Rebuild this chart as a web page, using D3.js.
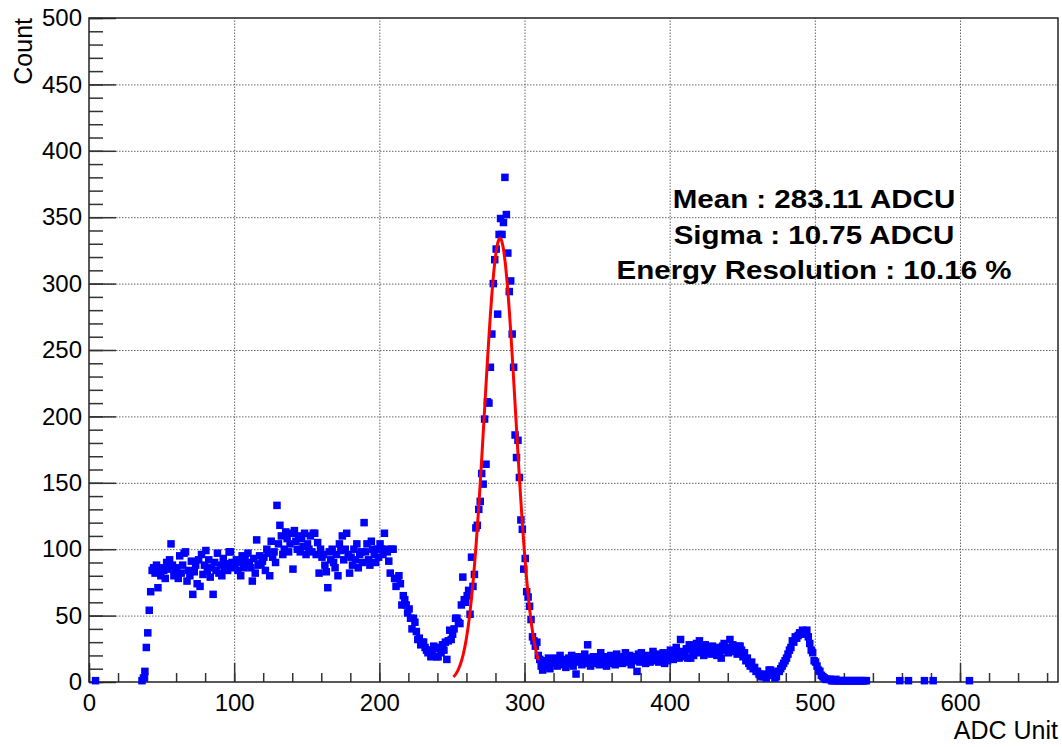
<!DOCTYPE html>
<meta charset="utf-8">
<script src="https://d3js.org/d3.v7.min.js"></script>
<style>
body { margin: 0; background: white; }
svg text { font-family: "Liberation Sans", Arial, Helvetica, sans-serif; fill: #000; }
.grid line { stroke: #666; stroke-dasharray: 1.5,1.5; stroke-width: 1; }
.grid path { display: none; }
.axis path { display: none; }
.axis line { stroke: #333; stroke-width: 1.5; }
.stats { font-weight: bold; font-size: 25px; }
</style>
<body>
<svg id="svg" width="1062" height="747"></svg>
<script>
// histogram counts, one bin per ADC unit, bins start at 0 (empty bins are not drawn)
var binWidth = 1;
var counts0 = [0,0,0,0,1,0,0,0,0,0, 0,0,0,0,0,0,0,0,0,0, 0,0,0,0,0,0,0,0,0,0, 0,0,0,0,0,0,1,3,8,26,
               37,54,68,84,86,82,88,71,85,80, 86,84,78,90,85,92,104,88,80,83, 86,78,95,82,88,97,98,76,84,80,
               91,66,83,88,74,92,72,96,81,88, 99,84,92,79,86,66,90,84,97,82, 88,80,93,85,89,84,98,98,90,86];
var counts100 = [88,92,84,90,80,95,86,93,88,97, 90,86,76,93,82,107,88,95,89,91, 94,84,100,97,80,106,94,98,90,133,
                 104,118,110,96,100,113,108,98,104,112, 85,114,106,100,110,98,108,102,112,96,
                 104,100,110,98,112,112,96,105,82,100, 94,96,88,83,71,98,92,100,90,86,
                 96,80,104,99,110,92,100,112,96,82, 94,88,100,92,104,86,96,98,90,120, 98,104,92,88,106,100,96,90,100,94];
var counts200 = [104,100,96,112,100,98,91,82,100,100, 78,72,78,80,74,58,65,62,58,52, 55,48,40,48,45,38,32,33,28,30,
                 30,26,24,22,24,19,20,27,25,19, 19,26,22,28,24,30,17,31,39,32, 36,40,48,48,45,44,58,79,62,60,
                 65,69,51,94,72,81,116,118,130,136, 157,149,198,164,211,210,237,262,300,318,
                 326,277,337,349,337,346,380,352,323,294, 302,262,237,186,169,182,154,122,115,85];
var counts300 = [93,68,64,57,47,34,31,27,30,20, 17,12,9,14,16,12,18,10,15,17, 14,18,12,16,20,15,13,17,11,16,
                 18,14,20,12,16,6,19,15,17,13, 16,21,14,28,18,12,15,19,16,14, 17,13,22,16,15,19,12,18,14,20,
                 16,18,13,21,15,17,19,14,16,22, 18,15,20,13,17,19,16,8,21,15, 22,16,18,14,20,17,15,19,23,16,
                 18,21,15,19,17,22,14,20,16,18];
var counts400 = [24,19,17,22,26,20,18,32,23,19, 21,25,18,28,18,24,20,26,29,22, 31,27,24,20,28,22,25,24,21,27,
                 23,26,20,24,22,18,27,29,24,26, 22,32,25,28,23,26,21,27,27,24, 19,22,16,18,14,12,15,10,11,8,
                 8,6,5,4,4,6,3,5,9,9, 6,5,3,4,8,8,10,12,14,16, 18,21,24,26,31,30,34,33,35,37,
                 37,39,36,38,39,34,29,24,22,16];
var counts500 = [15,12,9,8,5,4,3,2,2,2, 2,1,1,1,2,1,1,1,1,1, 1,1,1,1,1,1,1,1,1,1, 1,1,1,1,1,1,0,0,0,0,
                 0,0,0,0,0,0,0,0,0,0, 0,0,0,0,0,0,0,0,1,0, 0,0,0,0,1,0,0,0,0,0, 0,0,0,0,0,1,0,0,0,0,
                 0,1,0,0,0,0,0,0,0,0, 0,0,0,0,0,0,0,0,0,0, 0,0,0,0,0,0,1,0,0,0];

// gaussian fit shown in red
var fitMean = 283.11, fitSigma = 10.75, fitAmp = 334;
var fitRange = [251, 309.5];

var statLines = ["Mean : 283.11 ADCU", "Sigma : 10.75 ADCU", "Energy Resolution : 10.16 %"];

var xMajor = [0, 100, 200, 300, 400, 500, 600];
var xMinor = d3.range(0, 667, 20);
var yMajor = [0, 50, 100, 150, 200, 250, 300, 350, 400, 450, 500];
var yMinor = d3.range(0, 501, 10);

var counts = counts0.concat(counts100, counts200, counts300, counts400, counts500);
var bins = counts.map(function(c, i) { return {x: (i + 0.5) * binWidth, y: c}; })
    .filter(function(d) { return d.y > 0; });

var svg = d3.select("#svg");
var margin = {top: 18, right: 4, bottom: 65, left: 89};
var width = 1062 - margin.left - margin.right;
var height = 747 - margin.top - margin.bottom;

svg.append("rect").attr("width", 1062).attr("height", 747).attr("fill", "white");

var g = svg.append("g")
    .attr("transform", "translate(" + margin.left + "," + margin.top + ")");

var x = d3.scaleLinear().domain([0, 667.5]).range([0, width]);
var y = d3.scaleLinear().domain([0, 500]).range([height, 0]);

// dotted grid
g.append("g")
    .attr("class", "grid")
    .attr("transform", "translate(0," + height + ")")
    .call(d3.axisBottom(x).tickValues(xMajor.slice(1)).tickSize(-height).tickFormat(""));
g.append("g")
    .attr("class", "grid")
    .call(d3.axisLeft(y).tickValues(yMajor.slice(1, -1)).tickSize(-width).tickFormat(""));

// ticks point inward like ROOT
g.append("g")
    .attr("class", "axis")
    .attr("transform", "translate(0," + height + ")")
    .call(d3.axisBottom(x).tickValues(xMinor).tickSize(-9).tickFormat(""));
var xAxis = g.append("g")
    .attr("class", "axis")
    .attr("transform", "translate(0," + height + ")")
    .call(d3.axisBottom(x).tickValues(xMajor).tickSize(-19).tickPadding(12).tickFormat(d3.format("d")));
g.append("g")
    .attr("class", "axis")
    .call(d3.axisLeft(y).tickValues(yMinor).tickSize(-14).tickFormat(""));
var yAxis = g.append("g")
    .attr("class", "axis")
    .call(d3.axisLeft(y).tickValues(yMajor).tickSize(-27).tickPadding(7).tickFormat(d3.format("d")));

xAxis.selectAll("text").style("font-size", "24px").attr("fill", "#000");
yAxis.selectAll("text").style("font-size", "24px").attr("fill", "#000");
xAxis.attr("font-family", null);
yAxis.attr("font-family", null);

// frame
g.append("rect")
    .attr("width", width)
    .attr("height", height)
    .attr("fill", "none")
    .attr("stroke", "#222")
    .attr("stroke-width", 1.5);

// data markers
g.append("g")
    .selectAll("rect")
    .data(bins)
    .enter().append("rect")
    .attr("x", function(d) { return x(d.x) - 3.75; })
    .attr("y", function(d) { return y(d.y) - 3.75; })
    .attr("width", 7.5)
    .attr("height", 7.5)
    .attr("fill", "#0000ff");

// fit curve
var fitPts = d3.range(fitRange[0], fitRange[1] + 0.01, 0.25).map(function(v) {
    return {x: v, y: fitAmp * Math.exp(-Math.pow(v - fitMean, 2) / (2 * fitSigma * fitSigma))};
});
g.append("path")
    .datum(fitPts)
    .attr("fill", "none")
    .attr("stroke", "#ff0000")
    .attr("stroke-width", 3)
    .attr("d", d3.line().x(function(d) { return x(d.x); }).y(function(d) { return y(d.y); }));

// axis titles
svg.append("text")
    .attr("transform", "translate(32,18) rotate(-90)")
    .attr("text-anchor", "end")
    .style("font-size", "25px")
    .text("Count");
svg.append("text")
    .attr("x", 1058)
    .attr("y", 739)
    .attr("text-anchor", "end")
    .style("font-size", "25px")
    .text("ADC Unit");

// fit results
svg.append("g")
    .selectAll("text")
    .data(statLines)
    .enter().append("text")
    .attr("class", "stats")
    .attr("text-anchor", "middle")
    .attr("transform", function(d, i) { return "translate(814," + (208 + i * 35.5) + ") scale(1.18,1)"; })
    .text(function(d) { return d; });
</script>
</body>
